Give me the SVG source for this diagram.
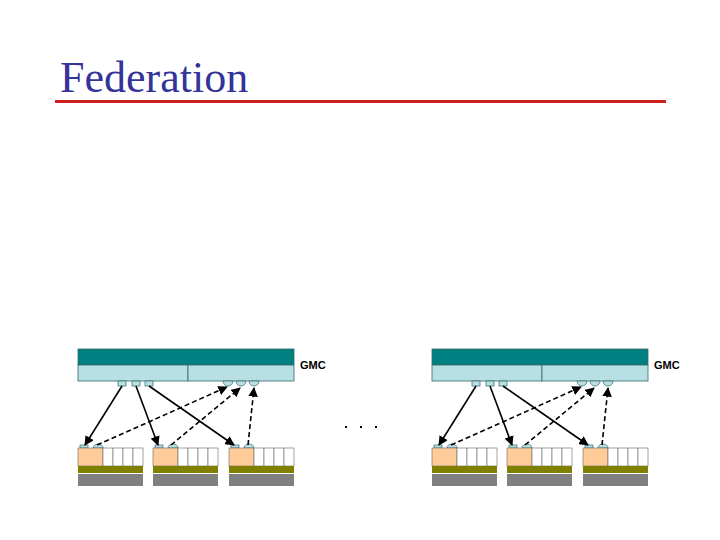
<svg xmlns="http://www.w3.org/2000/svg" width="720" height="540" viewBox="0 0 720 540">
<style>
.title{font-family:"Liberation Serif",serif;font-size:44px;fill:#333399}
.lbl{font-family:"Liberation Sans",Arial,sans-serif;font-size:11px;font-weight:bold;fill:#000}
.teal{fill:#008080;stroke:#336666;stroke-width:0.8}
.lt{fill:#B8E0E4;stroke:#336666;stroke-width:0.8}
.port{fill:#B8E0E4;stroke:#336666;stroke-width:0.7}
.peach{fill:#FFCC99;stroke:#666;stroke-width:0.6}
.cell{fill:#fff;stroke:#666;stroke-width:0.6}
.olive{fill:#808000}
.gray{fill:#808080}
.solid{stroke:#000;stroke-width:1.6;fill:none;marker-end:url(#ah)}
.dash{stroke:#000;stroke-width:1.6;fill:none;stroke-dasharray:5 3;marker-end:url(#ah)}
</style>
<defs>
<marker id="ah" viewBox="0 0 10 10" refX="9" refY="5" markerWidth="6" markerHeight="6" orient="auto" markerUnits="strokeWidth">
<path d="M0,0 L10,5 L0,10 z" fill="#000"/>
</marker>
<g id="gmc">
<rect class="teal" x="0" y="0" width="216" height="16"/>
<rect class="lt" x="0" y="16" width="110" height="16"/>
<rect class="lt" x="110" y="16" width="106" height="16"/>
<rect class="port" x="40" y="32" width="8" height="5"/>
<rect class="port" x="54" y="32" width="8" height="5"/>
<rect class="port" x="67" y="32" width="8" height="5"/>
<path class="port" d="M145,32 a5,5 0 0 0 10,0 z"/>
<path class="port" d="M158,32 a5,5 0 0 0 10,0 z"/>
<path class="port" d="M171,32 a5,5 0 0 0 10,0 z"/>
</g>
<g id="node">
<rect class="port" x="2" y="-3" width="8" height="3"/>
<path class="port" d="M15,0 a5,4 0 0 1 10,0 z"/>
<rect class="peach" x="0" y="0" width="25" height="18"/>
<rect class="cell" x="25" y="0" width="10" height="18"/>
<rect class="cell" x="35" y="0" width="10" height="18"/>
<rect class="cell" x="45" y="0" width="10" height="18"/>
<rect class="cell" x="55" y="0" width="10" height="18"/>
<rect class="olive" x="0" y="18" width="65" height="7"/>
<rect class="gray" x="0" y="26" width="65" height="12"/>
</g>
</defs>
<text class="title" x="60" y="92">Federation</text>
<rect x="55" y="100" width="611" height="3" fill="#CC2222"/>

<g id="gmc-left"><use href="#gmc" x="78" y="349"/><text class="lbl" x="300" y="369">GMC</text></g>
<g id="node-l1"><use href="#node" x="78" y="448"/></g>
<g id="node-l2"><use href="#node" x="153" y="448"/></g>
<g id="node-l3"><use href="#node" x="229" y="448"/></g>

<g id="gmc-right"><use href="#gmc" x="432" y="349"/><text class="lbl" x="654" y="369">GMC</text></g>
<g id="node-r1"><use href="#node" x="432" y="448"/></g>
<g id="node-r2"><use href="#node" x="507" y="448"/></g>
<g id="node-r3"><use href="#node" x="583" y="448"/></g>

<g id="dots" fill="#000">
<rect x="345" y="426" width="2" height="2"/>
<rect x="360" y="426" width="2" height="2"/>
<rect x="375" y="426" width="2" height="2"/>
</g>

<g id="connectors">
<line class="solid" x1="122" y1="386" x2="85" y2="445"/>
<line class="solid" x1="136" y1="386" x2="158" y2="445"/>
<line class="solid" x1="149" y1="386" x2="234" y2="445"/>
<line class="dash" x1="97" y1="445" x2="227" y2="387"/>
<line class="dash" x1="171" y1="445" x2="240" y2="388"/>
<line class="dash" x1="248" y1="445" x2="254" y2="388"/>

<line class="solid" x1="476" y1="386" x2="439" y2="445"/>
<line class="solid" x1="490" y1="386" x2="512" y2="445"/>
<line class="solid" x1="503" y1="386" x2="588" y2="445"/>
<line class="dash" x1="451" y1="445" x2="581" y2="387"/>
<line class="dash" x1="525" y1="445" x2="594" y2="388"/>
<line class="dash" x1="602" y1="445" x2="608" y2="388"/>
</g>
</svg>
